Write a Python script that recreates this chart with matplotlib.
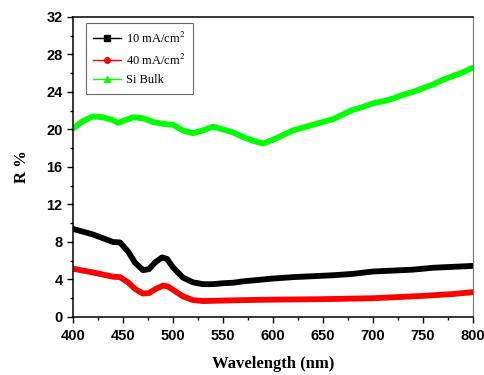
import matplotlib
matplotlib.use("Agg")
import matplotlib.pyplot as plt
from matplotlib.lines import Line2D
from matplotlib.ticker import MultipleLocator

# reflectance spectra
wl_10 = [400, 410, 420, 430, 440, 447, 455, 462, 470, 476, 482, 489, 494, 500, 510, 520, 530, 540,
         550, 560, 570, 580, 590, 600, 620, 640, 660, 680, 700, 720, 740, 760, 780, 800]
r_10 = [9.4, 9.1, 8.8, 8.4, 8.0, 7.95, 7.0, 5.8, 5.0, 5.1, 5.8, 6.35, 6.2, 5.3, 4.2, 3.7, 3.5, 3.5,
        3.6, 3.65, 3.8, 3.9, 4.0, 4.1, 4.25, 4.35, 4.45, 4.6, 4.85, 4.95, 5.05, 5.25, 5.35, 5.45]

wl_40 = [400, 420, 440, 447, 455, 462, 470, 476, 483, 490, 495, 500, 510, 520, 530, 550, 570,
         600, 650, 700, 750, 780, 800]
r_40 = [5.15, 4.75, 4.3, 4.25, 3.7, 3.0, 2.5, 2.55, 3.0, 3.35, 3.25, 2.9, 2.2, 1.8, 1.7, 1.75, 1.8,
        1.85, 1.9, 2.0, 2.25, 2.45, 2.65]

wl_si = [400, 410, 420, 430, 440, 445, 450, 460, 470, 480, 490, 500, 510, 520, 530, 540, 550, 560,
         570, 580, 590, 600, 610, 620, 630, 640, 650, 660, 670, 680, 690, 700, 710, 720, 730, 740,
         750, 760, 770, 780, 790, 800]
r_si = [20.1, 20.9, 21.4, 21.3, 21.0, 20.7, 20.9, 21.3, 21.2, 20.8, 20.6, 20.5, 19.9, 19.6, 19.9,
        20.3, 20.0, 19.7, 19.2, 18.8, 18.5, 18.9, 19.4, 19.9, 20.2, 20.5, 20.8, 21.1, 21.6, 22.1,
        22.4, 22.8, 23.0, 23.3, 23.7, 24.0, 24.4, 24.8, 25.3, 25.7, 26.1, 26.6]

labels = ["10 mA/cm$^2$", "40 mA/cm$^2$", "Si Bulk"]

plt.rcParams['mathtext.fontset'] = 'stix'

fig = plt.figure(figsize=(4.85, 3.75), dpi=100)
ax = fig.add_axes([0.1505, 0.1547, 0.8245, 0.80])

ax.plot(wl_10, r_10, color='black', lw=4.2, solid_capstyle='round', solid_joinstyle='round')
ax.plot(wl_40, r_40, color='red', lw=4.2, solid_capstyle='round', solid_joinstyle='round')
ax.plot(wl_si, r_si, color='#00ff00', lw=4.2, solid_capstyle='round', solid_joinstyle='round')

ax.set_xlim(400, 800)
ax.set_ylim(0, 32)
ax.xaxis.set_major_locator(MultipleLocator(50))
ax.xaxis.set_minor_locator(MultipleLocator(25))
ax.yaxis.set_major_locator(MultipleLocator(4))
ax.yaxis.set_minor_locator(MultipleLocator(2))
ax.tick_params(which='major', direction='out', length=4, width=1, top=False, right=False)
ax.tick_params(which='minor', direction='out', length=2.5, width=1, top=False, right=False)
ax.tick_params(axis='x', which='major', pad=5)
for lab in ax.get_xticklabels() + ax.get_yticklabels():
    lab.set_fontfamily('Liberation Sans')
    lab.set_fontweight('bold')
    lab.set_fontsize(10.5)
ax.spines['right'].set_color('#777777')
for s in ['left', 'bottom', 'top']:
    ax.spines[s].set_linewidth(1.1)

ax.set_xlabel("Wavelength (nm)", fontfamily='Liberation Serif', fontweight='bold', fontsize=12,
              labelpad=9)
ax.set_ylabel("R %", fontfamily='Liberation Serif', fontweight='bold', fontsize=12, labelpad=12)

handles = [Line2D([], [], color='black', lw=1, marker='s', ms=4),
           Line2D([], [], color='red', lw=1, marker='o', ms=4),
           Line2D([], [], color='#00ff00', lw=1, marker='^', ms=5)]
leg = ax.legend(handles, labels, loc='upper left', bbox_to_anchor=(0.032, 0.98),
                prop={'family': 'Liberation Serif', 'size': 9}, fancybox=False,
                edgecolor='#444444', handlelength=2.2, handletextpad=0.4,
                labelspacing=0.55, borderpad=0.6, borderaxespad=0)
leg.get_frame().set_linewidth(0.8)

fig.savefig("out.png", dpi=100)
